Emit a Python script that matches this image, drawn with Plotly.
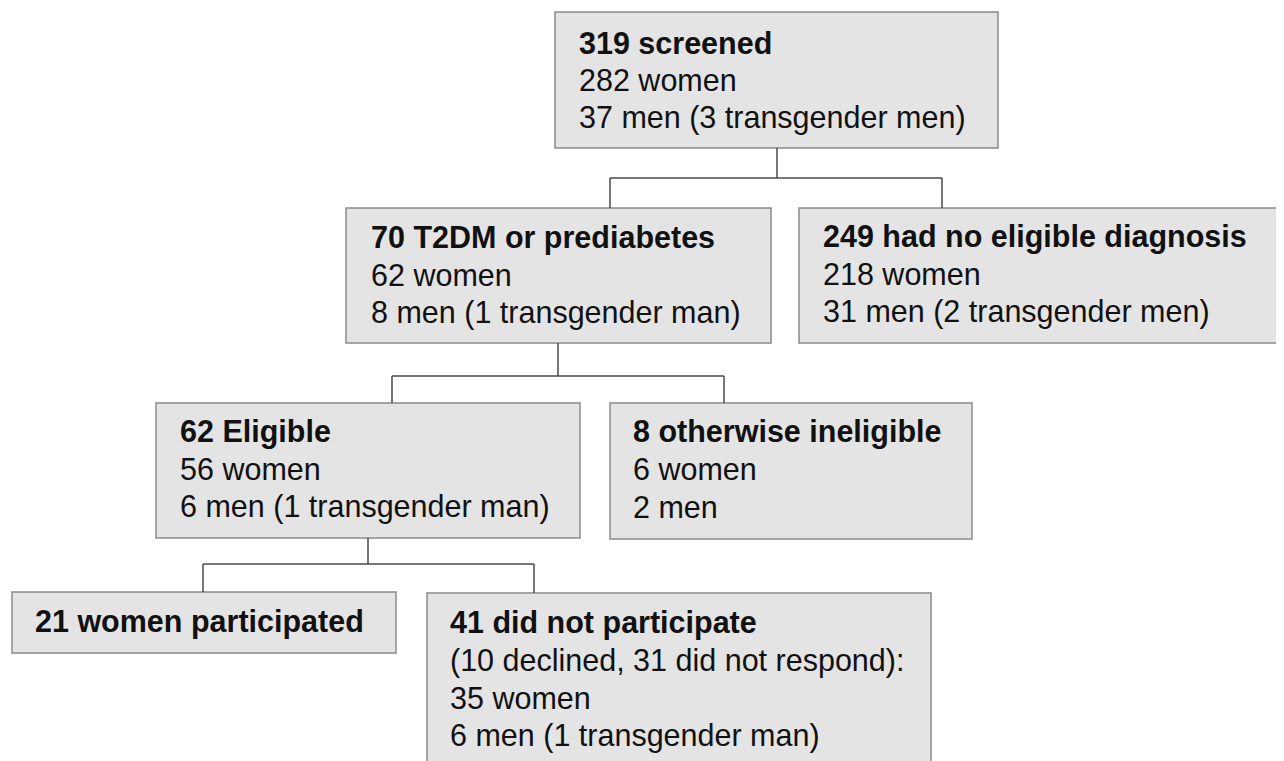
import plotly.graph_objects as go

# ---- data (text content of the flowchart) ----
box_titles = [
    "319 screened",
    "70 T2DM or prediabetes",
    "249 had no eligible diagnosis",
    "62 Eligible",
    "8 otherwise ineligible",
    "21 women participated",
    "41 did not participate",
]
box_details = [
    ["282 women", "37 men (3 transgender men)"],
    ["62 women", "8 men (1 transgender man)"],
    ["218 women", "31 men (2 transgender men)"],
    ["56 women", "6 men (1 transgender man)"],
    ["6 women", "2 men"],
    [],
    ["(10 declined, 31 did not respond):", "35 women", "6 men (1 transgender man)"],
]
# parent -> children links (indices into box lists)
links = [(0, [1, 2]), (1, [3, 4]), (3, [5, 6])]

# ---- layout (pixel geometry in page coordinates: x0, y0, x1, y1) ----
box_geom = [
    (555, 12, 998, 148),
    (346, 208, 771, 343),
    (799, 208, 1282, 343),
    (156, 403, 580, 538),
    (610, 403, 972, 539),
    (12, 592, 396, 653),
    (427, 593, 931, 775),
]
text_x = [577, 369, 821, 178, 631, 33, 448]
first_baseline = [53, 248, 247, 442, 442, 632, 633]
line_step = 37.6
font_size = 30.5
# connectors: (parent stem x, bar y, child drop xs)
conn_geom = [
    (777, 178, [610, 942]),
    (558, 376, [392, 724]),
    (368, 564, [203, 534]),
]

PAGE_W, PAGE_H = 1284, 761
OFF = 8  # default body margin of the html page
W, H = PAGE_W - OFF, PAGE_H - OFF
FILL = "#e4e4e4"
BORDER = "#8a8a8a"
LINE = "#4a4a4a"
TXT = "#111111"
FONT = "Arial"

fig = go.Figure()
shapes = []
annotations = []

for i, (x0, y0, x1, y1) in enumerate(box_geom):
    shapes.append(dict(type="rect", x0=x0, y0=y0, x1=x1, y1=y1,
                       xref="x", yref="y", fillcolor=FILL,
                       line=dict(color=BORDER, width=1.5), layer="below"))
    lines = [("<b>" + box_titles[i] + "</b>")] + box_details[i]
    for k, t in enumerate(lines):
        base = first_baseline[i] + k * line_step
        annotations.append(dict(x=text_x[i], y=base - 10.5, xref="x", yref="y",
                                text=t, showarrow=False, xanchor="left",
                                yanchor="middle",
                                font=dict(family=FONT, size=font_size, color=TXT)))

for (parent, children), (sx, by, drops) in zip(links, conn_geom):
    py = box_geom[parent][3]
    shapes.append(dict(type="line", x0=sx, y0=py, x1=sx, y1=by, xref="x", yref="y",
                       line=dict(color=LINE, width=1.5)))
    shapes.append(dict(type="line", x0=min(drops), y0=by, x1=max(drops), y1=by,
                       xref="x", yref="y", line=dict(color=LINE, width=1.5)))
    for c, dx in zip(children, drops):
        cy = box_geom[c][1]
        shapes.append(dict(type="line", x0=dx, y0=by, x1=dx, y1=cy, xref="x", yref="y",
                           line=dict(color=LINE, width=1.5)))

fig.update_layout(
    width=W, height=H,
    margin=dict(l=0, r=0, t=0, b=0),
    paper_bgcolor="white", plot_bgcolor="white",
    xaxis=dict(range=[OFF, PAGE_W], visible=False, fixedrange=True),
    yaxis=dict(range=[PAGE_H, OFF], visible=False, fixedrange=True),
    shapes=shapes, annotations=annotations,
    showlegend=False,
)
fig.write_html("out.html")
